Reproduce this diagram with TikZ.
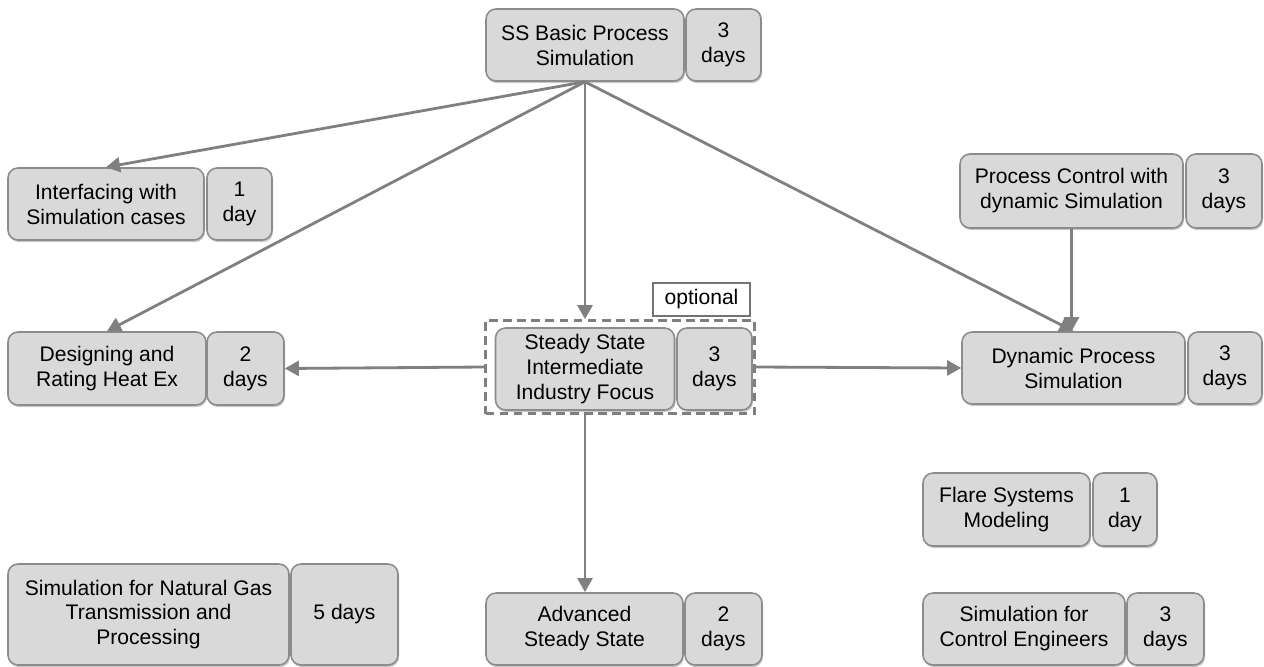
\documentclass[tikz,border=0pt]{standalone}
\usepackage{fontspec}
\setmainfont{Liberation Sans}
\usetikzlibrary{arrows.meta,shadows}
\definecolor{boxfill}{HTML}{D9D9D9}
\definecolor{boxline}{HTML}{8C8C8C}
\definecolor{arrowgray}{HTML}{808080}
\definecolor{dashgray}{HTML}{7F7F7F}
\begin{document}
\begin{tikzpicture}[x=0.02cm,y=-0.02cm,
  box/.style={draw=boxline, line width=0.9pt, fill=boxfill, rounded corners=0.2cm,
    align=center, inner sep=0pt, font=\fontsize{12pt}{14.2pt}\selectfont,
    drop shadow={shadow xshift=0.6pt, shadow yshift=-1.2pt, opacity=0.35, fill=black!60}},
  conn/.style={draw=arrowgray, line width=1.6pt, -{Triangle[length=8pt,width=8.5pt]}},
  optbox/.style={draw=black!55, line width=0.6pt, fill=white, inner sep=0pt,
    font=\fontsize{12pt}{14.2pt}\selectfont},
  dashbox/.style={draw=dashgray, line width=1.5pt, dash pattern=on 5pt off 3pt, inner sep=0pt}
]
\useasboundingbox (0,0) rectangle (1264,666);

% nodes
\node[box, minimum width=198*0.02cm, minimum height=72*0.02cm] (ss) at (585,45) {SS Basic Process\\Simulation};
\node[box, minimum width=75*0.02cm, minimum height=72*0.02cm] (ssd) at (723.5,45) {3\\days};

\node[box, minimum width=196*0.02cm, minimum height=72*0.02cm] (intf) at (106,204) {Interfacing with\\Simulation cases};
\node[box, minimum width=65*0.02cm, minimum height=72*0.02cm] (intfd) at (239.5,204) {1\\day};

\node[box, minimum width=223*0.02cm, minimum height=74*0.02cm] (pc) at (1071.5,191) {Process Control with\\dynamic Simulation};
\node[box, minimum width=76*0.02cm, minimum height=74*0.02cm] (pcd) at (1224,191) {3\\days};

\node[dashbox, minimum width=269*0.02cm, minimum height=93*0.02cm] (dsh) at (620,367) {};
\node[optbox, minimum width=97*0.02cm, minimum height=33*0.02cm] (opt) at (701.5,299.5) {optional};

\node[box, minimum width=179*0.02cm, minimum height=82*0.02cm] (ssi) at (585,369) {Steady State\\Intermediate\\Industry Focus};
\node[box, minimum width=75*0.02cm, minimum height=82*0.02cm] (ssid) at (714.5,369) {3\\days};

\node[box, minimum width=198*0.02cm, minimum height=73*0.02cm] (des) at (107,368.5) {Designing and\\Rating Heat Ex};
\node[box, minimum width=77*0.02cm, minimum height=73*0.02cm] (desd) at (245.5,368.5) {2\\days};

\node[box, minimum width=223*0.02cm, minimum height=72*0.02cm] (dyn) at (1073.5,368) {Dynamic Process\\Simulation};
\node[box, minimum width=74*0.02cm, minimum height=72*0.02cm] (dynd) at (1225,368) {3\\days};

\node[box, minimum width=167*0.02cm, minimum height=73*0.02cm] (flare) at (1006.5,509.5) {Flare Systems\\Modeling};
\node[box, minimum width=64*0.02cm, minimum height=73*0.02cm] (flared) at (1125,509.5) {1\\day};

\node[box, minimum width=281*0.02cm, minimum height=101*0.02cm] (ng) at (148.5,614.5) {Simulation for Natural Gas\\Transmission and\\Processing};
\node[box, minimum width=107*0.02cm, minimum height=101*0.02cm] (ngd) at (344.5,614.5) {5 days};

\node[box, minimum width=197*0.02cm, minimum height=72*0.02cm] (adv) at (584.5,629) {Advanced\\Steady State};
\node[box, minimum width=77*0.02cm, minimum height=72*0.02cm] (advd) at (723.5,629) {2\\days};

\node[box, minimum width=202*0.02cm, minimum height=72*0.02cm] (sce) at (1024,629) {Simulation for\\Control Engineers};
\node[box, minimum width=77*0.02cm, minimum height=72*0.02cm] (sced) at (1165.5,629) {3\\days};

% connectors
\draw[conn] (ss.south) -- (intf.north);
\draw[conn] (ss.south) -- (des.north);
\draw[conn] (ss.south) -- (ss.south |- dsh.north);
\draw[conn] (ss.south) -- (dyn.north);
\draw[conn] (pc.south) -- (pc.south |- dyn.north);
\draw[conn] (dsh.west) -- (desd.east);
\draw[conn] (dsh.east) -- (dyn.west);
\draw[conn] (ss.south |- dsh.south) -- (ss.south |- adv.north);
\end{tikzpicture}
\end{document}
